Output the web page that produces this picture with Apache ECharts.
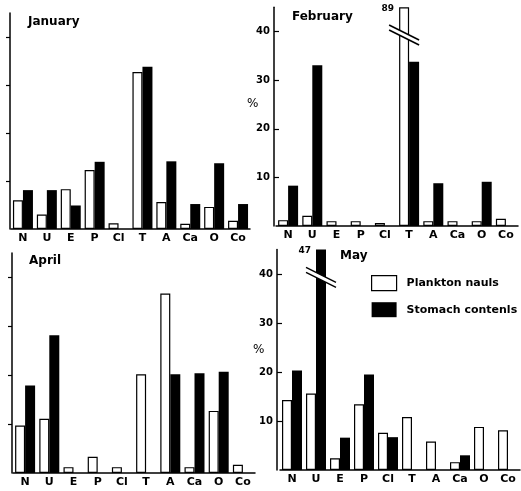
<!DOCTYPE html>
<html>
<head>
<meta charset="utf-8">
<title>Plankton nauplii vs stomach contents</title>
<script src="https://cdn.jsdelivr.net/npm/echarts@6/dist/echarts.min.js"></script>
<style>
  html, body { margin: 0; padding: 0; background: #fff; }
  #main { width: 521px; height: 491px; }
</style>
</head>
<body>
<div id="main"></div>
<script>
// 类别（横轴）
var categories = ['N', 'U', 'E', 'P', 'Cl', 'T', 'A', 'Ca', 'O', 'Co'];
var months = ['January', 'February', 'April', 'May'];
var seriesNames = ['Plankton nauls', 'Stomach contenls'];
var tickValues = [10, 20, 30, 40];

// % values
var janPlankton = [6.0, 3.0, 8.3, 12.3, 1.2, 32.7, 5.6, 1.1, 4.6, 1.7];
var janStomach  = [8.1, 8.1, 4.9, 14.0, 0, 33.8, 14.1, 5.2, 13.7, 5.2];
var febPlankton = [1.2, 2.1, 1.0, 1.0, 0.6, 89, 1.0, 1.0, 1.0, 1.5];
var febStomach  = [8.3, 33.1, 0, 0, 0, 33.8, 8.8, 0, 9.1, 0];
var aprPlankton = [9.7, 11.1, 1.2, 3.3, 1.2, 20.2, 36.7, 1.2, 12.7, 1.7];
var aprStomach  = [17.9, 28.2, 0, 0, 0, 0, 20.2, 20.4, 20.7, 0];
var mayPlankton = [14.3, 15.6, 2.4, 13.4, 7.6, 10.8, 5.8, 1.6, 8.8, 8.1];
var mayStomach  = [20.3, 47, 6.6, 19.5, 6.7, 0, 0, 3.0, 0, 0];

var plankton = [janPlankton, febPlankton, aprPlankton, mayPlankton];
var stomach = [janStomach, febStomach, aprStomach, mayStomach];

var FONT = 'DejaVu Sans';
var CAP = 45;        // top of every axis, taller bars are drawn broken
var BREAK_AT = 39.3; // where the break mark sits
var BAR_W = 10;

// 四个小图的位置
var grids = [
  {left: 11, top: 13, width: 239, height: 216},
  {left: 276, top: 7.3, width: 242, height: 218.7},
  {left: 13, top: 253, width: 242, height: 220},
  {left: 280, top: 249.5, width: 240, height: 220.5}
];
var axisOffset = [1, 2, 1, 3];
var showValues = [false, true, false, true];
var titlePos = [[28, 16], [292, 11], [29, 255], [340, 250]];
var pctPos = [null, [247, 98], null, [253, 344]];

function barData(values){
  return values.map(function(v){
    if(v <= CAP) return v;
    return {
      value: CAP,
      label: {
        show: true, formatter: String(v), position: [-5, -3],
        align: 'right', verticalAlign: 'top',
        fontFamily: FONT, fontWeight: 'bold', fontSize: 9, color: '#000'
      }
    };
  });
}

function breaksOf(values, side){
  var out = [];
  values.forEach(function(v, i){
    if(v > CAP) out.push([i, BREAK_AT, side]);
  });
  return out;
}

// 断轴记号
function renderBreak(params, api){
  var p = api.coord([api.value(0), api.value(1)]);
  var cx = p[0] + api.value(2) * BAR_W / 2;
  var y = p[1];
  var k = 0.5, hw = BAR_W / 2 + 0.8, L = 15, g = 2.5;
  return {
    type: 'group',
    children: [
      {type: 'polygon', shape: {points: [
        [cx - hw, y - g - hw * k], [cx + hw, y - g + hw * k],
        [cx + hw, y + g + hw * k], [cx - hw, y + g - hw * k]
      ]}, style: {fill: '#fff'}},
      {type: 'line', shape: {x1: cx - L, y1: y - g - L * k, x2: cx + L, y2: y - g + L * k},
        style: {stroke: '#000', lineWidth: 1.5}},
      {type: 'line', shape: {x1: cx - L, y1: y + g - L * k, x2: cx + L, y2: y + g + L * k},
        style: {stroke: '#000', lineWidth: 1.5}}
    ]
  };
}

var title = [], xAxis = [], yAxis = [], series = [], graphic = [];

months.forEach(function(m, i){
  title.push({
    text: m, left: titlePos[i][0], top: titlePos[i][1], padding: 0,
    textStyle: {fontFamily: FONT, fontWeight: 'bold', fontSize: 12, color: '#000'}
  });
  xAxis.push({
    gridIndex: i, type: 'category', data: categories,
    axisLine: {lineStyle: {color: '#000', width: 1.5}},
    axisTick: {show: false},
    axisLabel: {interval: 0, margin: 4, color: '#000', fontFamily: FONT, fontWeight: 'bold', fontSize: 11}
  });
  yAxis.push({
    gridIndex: i, type: 'value', min: 0, max: CAP, interval: 10, offset: axisOffset[i],
    axisLine: {show: true, lineStyle: {color: '#000', width: 1.5}},
    axisTick: {show: true, inside: showValues[i], length: showValues[i] ? 5 : 4,
      customValues: tickValues, lineStyle: {color: '#000', width: 1.2}},
    axisLabel: {show: showValues[i], customValues: tickValues, margin: 4,
      color: '#000', fontFamily: FONT, fontWeight: 'bold', fontSize: 10},
    splitLine: {show: false}
  });
  if(pctPos[i]){
    graphic.push({
      type: 'text', left: pctPos[i][0], top: pctPos[i][1],
      style: {text: '%', fill: '#000', font: '12px "DejaVu Sans"'}
    });
  }
  series.push({
    name: seriesNames[0], type: 'bar', xAxisIndex: i, yAxisIndex: i,
    barWidth: BAR_W, barGap: '0%', data: barData(plankton[i]),
    itemStyle: {color: '#fff', borderColor: '#000', borderWidth: 1.2}
  });
  series.push({
    name: seriesNames[1], type: 'bar', xAxisIndex: i, yAxisIndex: i,
    barWidth: BAR_W, barGap: '0%', data: barData(stomach[i]),
    itemStyle: {color: '#000'}
  });
  var br = breaksOf(plankton[i], -1).concat(breaksOf(stomach[i], 1));
  if(br.length){
    series.push({
      type: 'custom', xAxisIndex: i, yAxisIndex: i, z: 5, clip: false, silent: true,
      data: br, renderItem: renderBreak
    });
  }
});

var chart = echarts.init(document.getElementById('main'), null, {renderer: 'canvas'});
chart.setOption({
  animation: false,
  backgroundColor: '#fff',
  title: title,
  grid: grids,
  xAxis: xAxis,
  yAxis: yAxis,
  graphic: graphic,
  legend: {
    orient: 'vertical', left: 371, top: 275, padding: 0,
    itemWidth: 25, itemHeight: 15, itemGap: 11, selectedMode: false,
    data: [
      {name: seriesNames[0], icon: 'rect', itemStyle: {color: '#fff', borderColor: '#000', borderWidth: 1.2}},
      {name: seriesNames[1], icon: 'rect', itemStyle: {color: '#000'}}
    ],
    textStyle: {fontFamily: FONT, fontWeight: 'bold', fontSize: 11, color: '#000', padding: [0, 0, 0, 5]}
  },
  series: series
});
</script>
</body>
</html>
